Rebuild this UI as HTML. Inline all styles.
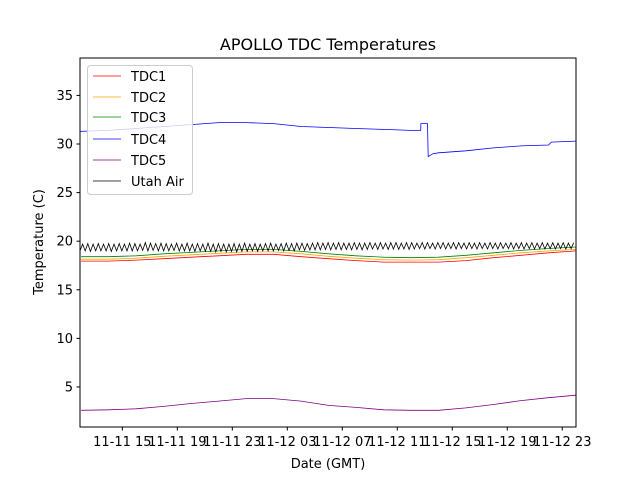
<!DOCTYPE html>
<html><head><meta charset="utf-8"><style>
body{margin:0;background:#fff;}
svg{display:block;font-family:"DejaVu Sans","Liberation Sans",sans-serif;}
</style></head><body>
<svg id="chart" width="640" height="480">
<rect width="640" height="480" fill="#fff"/>
<text x="328" y="50" font-size="16" text-anchor="middle">APOLLO TDC Temperatures</text>
<text x="328" y="468" font-size="13" text-anchor="middle">Date (GMT)</text>
<text transform="translate(43,242) rotate(-90)" font-size="13" text-anchor="middle">Temperature (C)</text>
<g id="series"></g>
<g id="axes"></g>
<rect x="80" y="58" width="496" height="369" fill="none" stroke="#000" stroke-width="1"/>
<g>
<rect x="87.5" y="65.5" width="105" height="129" rx="3" fill="#fff" fill-opacity="0.8" stroke="#ccc"/>
<g font-size="13" stroke-width="0.8">
<line x1="93" x2="121" y1="76" y2="76" stroke="#ff0000"/><text x="131" y="81">TDC1</text>
<line x1="93" x2="121" y1="97" y2="97" stroke="#ffa500"/><text x="131" y="102">TDC2</text>
<line x1="93" x2="121" y1="117" y2="117" stroke="#008000"/><text x="131" y="122">TDC3</text>
<line x1="93" x2="121" y1="139" y2="139" stroke="#0000ff"/><text x="131" y="144">TDC4</text>
<line x1="93" x2="121" y1="160" y2="160" stroke="#800080"/><text x="131" y="165">TDC5</text>
<line x1="93" x2="121" y1="181" y2="181" stroke="#000"/><text x="131" y="186">Utah Air</text>
</g></g>
</svg>
<script>
const hours=[12,14,16,18,20,22,24,26,28,30,32,34,36,38,40,42,44,46,48];
const tdc1=[17.95,17.95,18.05,18.2,18.35,18.5,18.65,18.65,18.4,18.2,18.0,17.85,17.85,17.85,18.0,18.3,18.55,18.8,19.0];
const tdc2=[18.15,18.15,18.25,18.45,18.6,18.75,18.9,18.9,18.7,18.45,18.25,18.1,18.05,18.1,18.3,18.55,18.8,19.0,19.15];
const tdc3=[18.4,18.4,18.5,18.7,18.85,19.0,19.15,19.15,18.95,18.7,18.5,18.35,18.3,18.35,18.55,18.8,19.05,19.25,19.4];
const tdc5=[2.6,2.65,2.75,3.0,3.3,3.55,3.8,3.8,3.55,3.1,2.9,2.65,2.6,2.6,2.85,3.2,3.6,3.9,4.15];
const tdc4Hours=[11.92,14,16,18,20,22,24,26,28,30,32,34,36,36.7,36.72,37.2,37.25,37.6,38,40,42,44,46,46.2,48];
const tdc4=[31.3,31.4,31.6,31.8,32.0,32.2,32.2,32.1,31.8,31.7,31.6,31.5,31.4,31.4,32.1,32.1,28.7,29.0,29.1,29.3,29.6,29.8,29.9,30.2,30.3];
const airStart=11.92, airStep=0.19;
const air=[19.0,19.7,19.0,19.75,18.95,19.7,19.0,19.75,19.0,19.7,19.0,19.75,18.95,19.7,19.0,19.75,19.0,19.7,19.0,19.8,19.0,19.75,19.0,19.7,19.05,19.85,19.0,19.8,19.05,19.75,19.0,19.8,19.0,19.75,19.0,19.7,19.05,19.8,19.0,19.7,19.0,19.8,19.0,19.7,18.95,19.75,19.0,19.7,18.95,19.8,18.95,19.7,18.9,19.75,18.95,19.7,18.9,19.7,18.95,19.75,18.9,19.7,18.95,19.8,18.95,19.7,19.0,19.75,18.95,19.7,19.0,19.75,19.0,19.8,19.0,19.7,19.05,19.75,19.0,19.8,19.05,19.75,19.0,19.8,19.1,19.8,19.05,19.75,19.1,19.8,19.1,19.85,19.1,19.8,19.15,19.85,19.1,19.8,19.15,19.85,19.1,19.8,19.15,19.8,19.1,19.85,19.15,19.8,19.1,19.8,19.15,19.85,19.2,19.8,19.15,19.85,19.2,19.8,19.15,19.85,19.2,19.85,19.15,19.8,19.2,19.85,19.15,19.85,19.2,19.8,19.25,19.85,19.2,19.85,19.25,19.8,19.2,19.85,19.25,19.85,19.2,19.8,19.25,19.85,19.2,19.85,19.25,19.8,19.2,19.85,19.25,19.8,19.2,19.85,19.25,19.8,19.2,19.85,19.25,19.8,19.2,19.85,19.25,19.8,19.25,19.85,19.2,19.8,19.25,19.85,19.2,19.8,19.25,19.85,19.2,19.8,19.25,19.85,19.2,19.8,19.25,19.85,19.2,19.8,19.25,19.85,19.2,19.8,19.25,19.85,19.2,19.8,19.25,19.85,19.2,19.8,19.25,19.85,19.2,19.8,19.25,19.85];
const yTicks=[5,10,15,20,25,30,35];
const xTickHours=[15,19,23,27,31,35,39,43,47];
const xTickLabels=["11-11 15","11-11 19","11-11 23","11-12 03","11-12 07","11-12 11","11-12 15","11-12 19","11-12 23"];

const NS="http://www.w3.org/2000/svg";
const xMin=11.92,xMax=48.0,yMin=0.88,yMax=38.85;
const X=h=>80+(h-xMin)/(xMax-xMin)*496;
const Y=v=>427-(v-yMin)/(yMax-yMin)*369;
const gS=document.getElementById('series'), gA=document.getElementById('axes');
function line(xs,vs,color,name){
  const p=document.createElementNS(NS,'polyline');
  p.setAttribute('points',vs.map((v,i)=>X(xs[i]).toFixed(1)+','+Y(v).toFixed(1)).join(' '));
  p.setAttribute('fill','none');p.setAttribute('stroke',color);p.setAttribute('stroke-width','0.8');
  
  
  gS.appendChild(p);
}
const airHours=air.map((v,i)=>airStart+i*airStep).filter(h=>h<=xMax);
line(hours,tdc1,'#ff0000','series-tdc1');
line(hours,tdc2,'#ffa500','series-tdc2');
line(hours,tdc3,'#008000','series-tdc3');
line(tdc4Hours,tdc4,'#0000ff','series-tdc4');
line(hours,tdc5,'#800080','series-tdc5');
line(airHours,air.slice(0,airHours.length),'#000','series-utah-air');
yTicks.forEach(v=>{
  const y=Y(v);
  const t=document.createElementNS(NS,'line');
  t.setAttribute('x1',76.5);t.setAttribute('x2',80);t.setAttribute('y1',y);t.setAttribute('y2',y);t.setAttribute('stroke','#000');
  
  
  gA.appendChild(t);
  const l=document.createElementNS(NS,'text');
  l.setAttribute('x',73);l.setAttribute('y',y+4.5);l.setAttribute('text-anchor','end');l.setAttribute('font-size','13');
  l.textContent=v;
  
  
  gA.appendChild(l);
});
xTickHours.forEach((h,i)=>{
  const x=X(h);
  const t=document.createElementNS(NS,'line');
  t.setAttribute('x1',x);t.setAttribute('x2',x);t.setAttribute('y1',427);t.setAttribute('y2',430.5);t.setAttribute('stroke','#000');
  
  
  gA.appendChild(t);
  const l=document.createElementNS(NS,'text');
  l.setAttribute('x',x);l.setAttribute('y',446);l.setAttribute('text-anchor','middle');l.setAttribute('font-size','13');
  l.textContent=xTickLabels[i];
  
  
  gA.appendChild(l);
});
</script>
</body></html>
